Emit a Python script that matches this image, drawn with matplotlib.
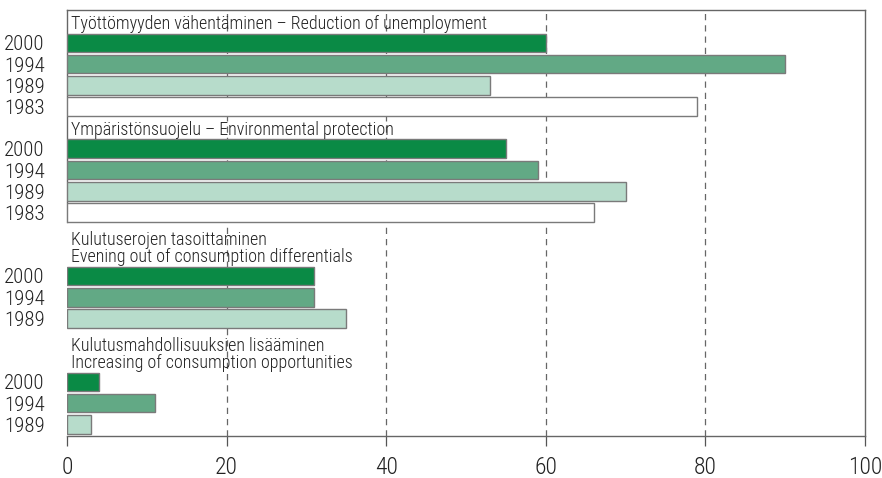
import matplotlib
matplotlib.use("Agg")
import matplotlib.pyplot as plt

plt.rcParams['font.family'] = ['Roboto Condensed', 'DejaVu Sans']
plt.rcParams['font.stretch'] = 'condensed'
plt.rcParams['font.weight'] = 'light'

# group titles
titles = [
    "Työttömyyden vähentäminen – Reduction of unemployment",
    "Ympäristönsuojelu – Environmental protection",
    "Kulutuserojen tasoittaminen\nEvening out of consumption differentials",
    "Kulutusmahdollisuuksien lisääminen\nIncreasing of consumption opportunities",
]
years = [
    ["2000", "1994", "1989", "1983"],
    ["2000", "1994", "1989", "1983"],
    ["2000", "1994", "1989"],
    ["2000", "1994", "1989"],
]
values = [
    [60, 90, 53, 79],
    [55, 59, 70, 66],
    [31, 31, 35],
    [4, 11, 3],
]
year_colors = {"2000": "#0a8a45", "1994": "#62a985", "1989": "#b7dccb", "1983": "#ffffff"}

# first row slot of each group (one row per bar)
group_start = [0, 5, 11, 16]

fig = plt.figure(figsize=(8.82, 4.78), dpi=100)
ax = fig.add_axes([67/882, 1-436/478, (865-67)/882, (436-10)/478])

ypos, ylabels = [], []
for g in range(len(titles)):
    y0 = group_start[g]
    for i, (yr, v) in enumerate(zip(years[g], values[g])):
        y = y0 + i
        ax.barh(y, v, height=0.88, color=year_colors[yr],
                edgecolor="#7a7a7a", linewidth=1.0, zorder=3)
        ypos.append(y)
        ylabels.append(yr)
    ax.text(0.5, y0 - 0.45, titles[g], ha="left", va="bottom",
            fontsize=13, color="#222222", linespacing=0.95, zorder=4)

ax.set_xlim(0, 100)
ax.set_ylim(18.55, -1.55)
ax.set_xticks([0, 20, 40, 60, 80, 100])
ax.set_yticks(ypos)
ax.set_yticklabels(ylabels)

ax.tick_params(axis="x", direction="out", length=7.5, width=0.9, color="#555555",
               labelsize=17, pad=7, labelcolor="#222222")
ax.tick_params(axis="y", length=0, labelsize=15, pad=16, labelcolor="#222222")
for lbl in ax.get_yticklabels():
    lbl.set_horizontalalignment("right")

for xv in [20, 40, 60, 80]:
    ax.axvline(xv, color="#666666", linestyle=(0, (5, 4)), linewidth=0.9, zorder=1)

for s in ["top", "right", "bottom", "left"]:
    ax.spines[s].set_color("#666666")
    ax.spines[s].set_linewidth(1.0)
ax.spines["left"].set_bounds(-1.55, 8.45)

fig.savefig("out.png", dpi=100)
